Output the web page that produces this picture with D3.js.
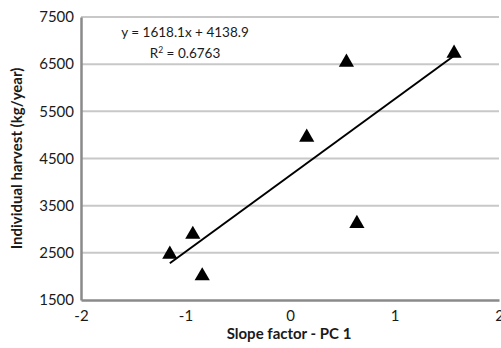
<!DOCTYPE html>
<html>
<head>
<meta charset="utf-8">
<script src="https://cdn.jsdelivr.net/npm/d3@7"></script>
<style>
  body { margin: 0; background: #fff; }
  text { font-family: Lato, "Liberation Sans", sans-serif; }
</style>
</head>
<body>
<div id="chart"></div>
<script>
// slope factor (PC 1) vs individual harvest
const slopeFactor = [-1.15, -0.93, -0.84, 0.16, 0.54, 0.64, 1.57];
const harvest = [2470, 2890, 2010, 4950, 6540, 3120, 6730];
const xTicks = [-2, -1, 0, 1, 2];
const yTicks = [1500, 2500, 3500, 4500, 5500, 6500, 7500];
const fit = { slope: 1618.1, intercept: 4138.9, r2: 0.6763 };

const width = 501, height = 348;
const margin = { top: 17, right: 2, bottom: 48, left: 81 };

const svg = d3.select('#chart').append('svg')
  .attr('width', width)
  .attr('height', height);

const x = d3.scaleLinear().domain([-2, 2]).range([margin.left, width - margin.right]);
const y = d3.scaleLinear().domain([1500, 7500]).range([height - margin.bottom, margin.top]);

// gridlines
svg.append('g')
  .selectAll('line')
  .data(yTicks.slice(1))
  .enter().append('line')
  .attr('x1', x(-2)).attr('x2', x(2))
  .attr('y1', d => y(d)).attr('y2', d => y(d))
  .attr('stroke', '#c8c8c8')
  .attr('stroke-width', 2);

// axes
const yAxis = svg.append('g')
  .attr('transform', `translate(${x(-2)},0)`)
  .call(d3.axisLeft(y).tickValues(yTicks).tickSize(0).tickPadding(7).tickFormat(d => String(d)));
const xAxis = svg.append('g')
  .attr('transform', `translate(0,${y(1500)})`)
  .call(d3.axisBottom(x).tickValues(xTicks).tickSize(0).tickPadding(10).tickFormat(d => String(d)));

[yAxis, xAxis].forEach(a => {
  a.select('.domain').attr('stroke', '#8a8a8a').attr('stroke-width', 2.5);
  a.selectAll('text').attr('font-size', 15).attr('fill', '#1a1a1a')
    .style('font-family', 'Lato, sans-serif');
});

// trendline over data range
const xMin = d3.min(slopeFactor), xMax = d3.max(slopeFactor);
svg.append('line')
  .attr('x1', x(xMin)).attr('y1', y(fit.slope * xMin + fit.intercept))
  .attr('x2', x(xMax)).attr('y2', y(fit.slope * xMax + fit.intercept))
  .attr('stroke', '#000')
  .attr('stroke-width', 2);

// points
const tri = d3.symbol().type(d3.symbolTriangle).size(100);
svg.append('g')
  .selectAll('path')
  .data(slopeFactor.map((v, i) => [v, harvest[i]]))
  .enter().append('path')
  .attr('d', tri)
  .attr('transform', d => `translate(${x(d[0])},${y(d[1])})`)
  .attr('fill', '#000');

// equation
const eq = svg.append('text')
  .attr('x', 185).attr('y', 37)
  .attr('text-anchor', 'middle')
  .attr('font-size', 13.5)
  .attr('fill', '#1a1a1a')
  .text(`y = ${fit.slope}x + ${fit.intercept}`);
const r2 = svg.append('text')
  .attr('x', 185).attr('y', 58)
  .attr('text-anchor', 'middle')
  .attr('font-size', 13.5)
  .attr('fill', '#1a1a1a');
r2.append('tspan').text('R');
r2.append('tspan').attr('baseline-shift', 'super').attr('font-size', 8.5).text('2');
r2.append('tspan').text(` = ${fit.r2}`);

// axis titles
svg.append('text')
  .attr('x', 289).attr('y', 339)
  .attr('text-anchor', 'middle')
  .attr('font-size', 15)
  .attr('font-weight', 'bold')
  .attr('fill', '#1a1a1a')
  .text('Slope factor  - PC 1');

svg.append('text')
  .attr('transform', `translate(22,${(margin.top + height - margin.bottom) / 2}) rotate(-90)`)
  .attr('text-anchor', 'middle')
  .attr('font-size', 15)
  .attr('font-weight', 'bold')
  .attr('fill', '#1a1a1a')
  .text('Individual harvest (kg/year)');
</script>
</body>
</html>
